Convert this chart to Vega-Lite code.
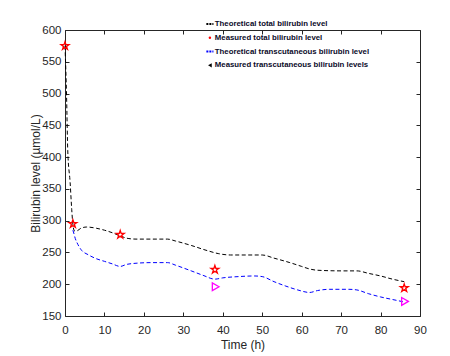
{
  "$schema": "https://vega.github.io/schema/vega-lite/v6.json",
  "width": 355,
  "height": 286,
  "autosize": "none",
  "padding": {"left": 65, "top": 30, "right": 30, "bottom": 40},
  "background": "white",
  "config": {
    "view": {"stroke": null},
    "axis": {"labelFont": "Liberation Sans", "titleFont": "Liberation Sans", "labelFontSize": 11.5, "titleFontSize": 12, "labelColor": "#262626", "titleColor": "#262626", "titleFontWeight": "normal", "domainColor": "#262626", "tickColor": "#262626", "grid": false, "tickSize": -4, "labelFlush": false}
  },
  "datasets": {
    "theory": [
      {"s": "Theoretical total bilirubin level", "t": 0, "v": 575},
      {"s": "Theoretical total bilirubin level", "t": 0.4, "v": 495},
      {"s": "Theoretical total bilirubin level", "t": 0.7, "v": 410},
      {"s": "Theoretical total bilirubin level", "t": 1.3, "v": 360},
      {"s": "Theoretical total bilirubin level", "t": 1.7, "v": 318},
      {"s": "Theoretical total bilirubin level", "t": 2, "v": 294},
      {"s": "Theoretical total bilirubin level", "t": 2.4, "v": 284},
      {"s": "Theoretical total bilirubin level", "t": 3, "v": 284},
      {"s": "Theoretical total bilirubin level", "t": 4, "v": 288},
      {"s": "Theoretical total bilirubin level", "t": 5.5, "v": 290},
      {"s": "Theoretical total bilirubin level", "t": 8, "v": 288},
      {"s": "Theoretical total bilirubin level", "t": 10, "v": 285},
      {"s": "Theoretical total bilirubin level", "t": 12, "v": 281},
      {"s": "Theoretical total bilirubin level", "t": 14, "v": 276},
      {"s": "Theoretical total bilirubin level", "t": 16, "v": 272},
      {"s": "Theoretical total bilirubin level", "t": 18, "v": 271},
      {"s": "Theoretical total bilirubin level", "t": 26, "v": 271},
      {"s": "Theoretical total bilirubin level", "t": 28, "v": 268},
      {"s": "Theoretical total bilirubin level", "t": 32, "v": 261},
      {"s": "Theoretical total bilirubin level", "t": 36, "v": 253},
      {"s": "Theoretical total bilirubin level", "t": 39, "v": 248},
      {"s": "Theoretical total bilirubin level", "t": 42, "v": 246},
      {"s": "Theoretical total bilirubin level", "t": 50, "v": 246},
      {"s": "Theoretical total bilirubin level", "t": 53, "v": 241},
      {"s": "Theoretical total bilirubin level", "t": 57, "v": 234},
      {"s": "Theoretical total bilirubin level", "t": 60, "v": 228},
      {"s": "Theoretical total bilirubin level", "t": 62, "v": 224},
      {"s": "Theoretical total bilirubin level", "t": 64, "v": 222},
      {"s": "Theoretical total bilirubin level", "t": 70, "v": 221},
      {"s": "Theoretical total bilirubin level", "t": 74, "v": 221},
      {"s": "Theoretical total bilirubin level", "t": 77, "v": 217},
      {"s": "Theoretical total bilirubin level", "t": 80, "v": 213},
      {"s": "Theoretical total bilirubin level", "t": 83, "v": 208},
      {"s": "Theoretical total bilirubin level", "t": 86, "v": 204},
      {"s": "Theoretical transcutaneous bilirubin level", "t": 2, "v": 285},
      {"s": "Theoretical transcutaneous bilirubin level", "t": 2.3, "v": 279},
      {"s": "Theoretical transcutaneous bilirubin level", "t": 2.6, "v": 272},
      {"s": "Theoretical transcutaneous bilirubin level", "t": 3, "v": 266},
      {"s": "Theoretical transcutaneous bilirubin level", "t": 4, "v": 255},
      {"s": "Theoretical transcutaneous bilirubin level", "t": 6, "v": 246},
      {"s": "Theoretical transcutaneous bilirubin level", "t": 8, "v": 240},
      {"s": "Theoretical transcutaneous bilirubin level", "t": 10, "v": 236},
      {"s": "Theoretical transcutaneous bilirubin level", "t": 12, "v": 232},
      {"s": "Theoretical transcutaneous bilirubin level", "t": 14, "v": 228},
      {"s": "Theoretical transcutaneous bilirubin level", "t": 15.5, "v": 231},
      {"s": "Theoretical transcutaneous bilirubin level", "t": 18, "v": 233},
      {"s": "Theoretical transcutaneous bilirubin level", "t": 22, "v": 234},
      {"s": "Theoretical transcutaneous bilirubin level", "t": 26, "v": 234},
      {"s": "Theoretical transcutaneous bilirubin level", "t": 28, "v": 230},
      {"s": "Theoretical transcutaneous bilirubin level", "t": 32, "v": 221},
      {"s": "Theoretical transcutaneous bilirubin level", "t": 35, "v": 214},
      {"s": "Theoretical transcutaneous bilirubin level", "t": 38, "v": 208},
      {"s": "Theoretical transcutaneous bilirubin level", "t": 40, "v": 210},
      {"s": "Theoretical transcutaneous bilirubin level", "t": 44, "v": 212},
      {"s": "Theoretical transcutaneous bilirubin level", "t": 48, "v": 213},
      {"s": "Theoretical transcutaneous bilirubin level", "t": 50, "v": 212},
      {"s": "Theoretical transcutaneous bilirubin level", "t": 53, "v": 204},
      {"s": "Theoretical transcutaneous bilirubin level", "t": 56, "v": 197},
      {"s": "Theoretical transcutaneous bilirubin level", "t": 59, "v": 191},
      {"s": "Theoretical transcutaneous bilirubin level", "t": 62, "v": 187},
      {"s": "Theoretical transcutaneous bilirubin level", "t": 64, "v": 190},
      {"s": "Theoretical transcutaneous bilirubin level", "t": 67, "v": 192},
      {"s": "Theoretical transcutaneous bilirubin level", "t": 72, "v": 192},
      {"s": "Theoretical transcutaneous bilirubin level", "t": 74, "v": 191},
      {"s": "Theoretical transcutaneous bilirubin level", "t": 77, "v": 185},
      {"s": "Theoretical transcutaneous bilirubin level", "t": 80, "v": 180},
      {"s": "Theoretical transcutaneous bilirubin level", "t": 83, "v": 176},
      {"s": "Theoretical transcutaneous bilirubin level", "t": 86, "v": 172}
    ],
    "measured": [
      {"s": "Measured total bilirubin level", "t": 0, "v": 575},
      {"s": "Measured total bilirubin level", "t": 2, "v": 295},
      {"s": "Measured total bilirubin level", "t": 14, "v": 278},
      {"s": "Measured total bilirubin level", "t": 38, "v": 223},
      {"s": "Measured total bilirubin level", "t": 86, "v": 194},
      {"s": "Measured transcutaneous bilirubin levels", "t": 38.2, "v": 196},
      {"s": "Measured transcutaneous bilirubin levels", "t": 86.2, "v": 173}
    ]
  },
  "layer": [
    {
      "data": {"name": "theory"},
      "mark": {"type": "line", "interpolate": "monotone", "strokeDash": [4, 2.5], "strokeWidth": 1},
      "encoding": {
        "x": {"field": "t", "type": "quantitative", "scale": {"domain": [0, 90], "nice": false}, "axis": {"orient": "bottom", "values": [0,10,20,30,40,50,60,70,80,90], "title": "Time (h)", "labelPadding": 12, "titlePadding": 4}},
        "y": {"field": "v", "type": "quantitative", "scale": {"domain": [150, 600], "nice": false, "zero": false}, "axis": {"orient": "left", "values": [150,200,250,300,350,400,450,500,550,600], "title": "Bilirubin level (µmol/L)", "labelPadding": 8, "titlePadding": -1}},
        "color": {"field": "s", "type": "nominal",
          "scale": {"domain": ["Theoretical total bilirubin level", "Measured total bilirubin level", "Theoretical transcutaneous bilirubin level", "Measured transcutaneous bilirubin levels"], "range": ["#000000", "#ff0000", "#0000ff", "#ff00ff"]},
          "legend": {"orient": "none", "legendX": 141, "legendY": -10, "title": null, "padding": 0, "labelFont": "Liberation Sans", "labelFontSize": 7.8, "labelFontWeight": "bold", "labelColor": "#0a0a28", "labelOffset": 1, "labelLimit": 0, "rowPadding": 4.8, "symbolSize": 50,
            "encode": {"symbols": {"update": {
              "shape": {"signal": "datum.index==1 ? 'circle' : datum.index==3 ? 'triangle-left' : 'stroke'"},
              "stroke": {"signal": "datum.index==0 ? '#000000' : datum.index==1 ? '#ff0000' : datum.index==2 ? '#1e78ff' : '#000000'"},
              "fill": {"signal": "datum.index==1 ? '#ff0000' : datum.index==3 ? '#000000' : 'transparent'"},
              "fillOpacity": {"value": 1},
              "size": {"signal": "datum.index==1 ? 6 : datum.index==3 ? 18 : 50"},
              "strokeWidth": {"signal": "datum.index==1 || datum.index==3 ? 0 : 2"},
              "strokeDash": {"signal": "datum.index==1 || datum.index==3 ? [1,0] : [2,1]"},
              "opacity": {"value": 1}
            }}}
          }
        }
      }
    },
    {
      "data": {"name": "measured"},
      "mark": {"type": "point", "filled": false, "strokeWidth": 1.3, "opacity": 1},
      "encoding": {
        "x": {"field": "t", "type": "quantitative", "axis": null},
        "y": {"field": "v", "type": "quantitative", "axis": null},
        "color": {"field": "s", "type": "nominal"},
        "shape": {"field": "s", "type": "nominal", "legend": null,
          "scale": {"domain": ["Measured total bilirubin level", "Measured transcutaneous bilirubin levels"], "range": ["M0,-1L0.2245,-0.309L0.951,-0.309L0.363,0.118L0.588,0.809L0,0.382L-0.588,0.809L-0.363,0.118L-0.951,-0.309L-0.2245,-0.309Z", "triangle-right"]}},
        "size": {"field": "s", "type": "nominal", "legend": null,
          "scale": {"domain": ["Measured total bilirubin level", "Measured transcutaneous bilirubin levels"], "range": [70, 60]}}
      }
    },
    {
      "data": {"name": "measured"},
      "mark": {"type": "point", "opacity": 0},
      "encoding": {
        "x": {"field": "t", "type": "quantitative", "axis": {"orient": "top", "labels": false, "title": null, "values": [0,10,20,30,40,50,60,70,80,90]}},
        "y": {"field": "v", "type": "quantitative", "axis": {"orient": "right", "labels": false, "title": null, "values": [150,200,250,300,350,400,450,500,550,600]}}
      }
    }
  ],
  "resolve": {"axis": {"x": "independent", "y": "independent"}}
}
